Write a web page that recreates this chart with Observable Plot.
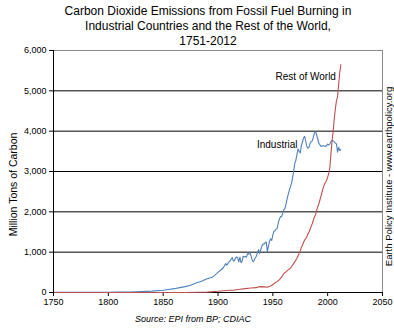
<!DOCTYPE html>
<html>
<head>
<meta charset="utf-8">
<script src="https://cdn.jsdelivr.net/npm/d3@7"></script>
<script src="https://cdn.jsdelivr.net/npm/@observablehq/plot@0.6"></script>
<style>
  html, body { margin: 0; padding: 0; background: #fff; }
  #wrap { position: relative; width: 394px; height: 333px; overflow: hidden; font-family: "Liberation Sans", Arial, sans-serif; }
  #title { position: absolute; top: 4px; left: 0; width: 416px; text-align: center; font-size: 12px; line-height: 15px; color: #000; }
  #caption { position: absolute; top: 314px; left: 0; width: 386px; text-align: center; font-size: 9px; font-style: italic; color: #000; }
  #chart { position: absolute; top: 0; left: 0; }
</style>
</head>
<body>
<div id="wrap">
  <div id="chart"></div>
  <div id="title">Carbon Dioxide Emissions from Fossil Fuel Burning in<br>Industrial Countries and the Rest of the World,<br>1751-2012</div>
  <div id="caption">Source: EPI from BP; CDIAC</div>
</div>
<script>
// Industrial countries (million tons of carbon)
const indYears = [1751,1770,1790,1800,1810,1820,1830,1840,1850,1855,1860,1865,1870,1875,1880,1885,1890,1895,1900,1903,1905,1907,1908,1910,1911,1913,1914,1915,1916,1917,1918,1919,1920,1921,1922,1923,1924,1925,1926,1927,1928,1929,1930,1931,1932,1933,1934,1935,1936,1937,1938,1939,1940,1941,1942,1943,1944,1945,1946,1947,1948,1949,1950,1951,1952,1953,1954,1955,1956,1957,1958,1959,1960,1961,1962,1963,1964,1965,1966,1967,1968,1969,1970,1971,1972,1973,1974,1975,1976,1977,1978,1979,1980,1981,1982,1983,1984,1985,1986,1987,1988,1989,1990,1991,1992,1993,1994,1995,1996,1997,1998,1999,2000,2001,2002,2003,2004,2005,2006,2007,2008,2009,2010,2011,2012];
const indValues = [3,4,6,8,10,14,22,35,55,75,95,120,145,180,235,280,340,380,500,570,620,720,680,760,780,870,780,790,860,880,860,760,880,740,780,900,880,890,880,960,950,1010,920,820,760,800,860,900,990,1060,970,1060,1150,1200,1200,1240,1250,1010,1150,1270,1330,1290,1420,1520,1530,1570,1590,1730,1820,1880,1880,1970,2050,2080,2190,2320,2430,2530,2620,2700,2850,3000,3200,3280,3420,3560,3500,3460,3640,3730,3830,3870,3750,3620,3580,3600,3700,3740,3760,3860,3960,3990,3900,3800,3700,3660,3620,3630,3640,3630,3620,3640,3680,3660,3680,3740,3770,3760,3740,3700,3690,3480,3600,3520,3540];
// Rest of world (million tons of carbon)
const rowYears = [1751,1850,1870,1884,1890,1900,1905,1910,1915,1920,1925,1930,1935,1937,1940,1942,1945,1948,1950,1952,1954,1956,1958,1960,1962,1964,1966,1968,1970,1972,1974,1975,1976,1977,1978,1979,1980,1981,1982,1983,1984,1985,1986,1987,1988,1989,1990,1991,1992,1993,1994,1995,1996,1997,1998,1999,2000,2001,2002,2003,2004,2005,2006,2007,2008,2009,2010,2011,2012];
const rowValues = [0,0,1,5,10,30,45,55,60,80,95,110,120,140,145,140,130,160,200,240,270,320,380,470,510,560,600,680,760,850,970,1030,1120,1170,1240,1300,1340,1380,1450,1500,1570,1640,1710,1800,1880,1930,2040,2130,2200,2300,2400,2500,2600,2680,2720,2780,2860,2950,3100,3450,3750,4000,4300,4550,4750,4850,5150,5450,5650];

const xTicks = [1750,1800,1850,1900,1950,2000,2050];
const yTicks = [0,1000,2000,3000,4000,5000,6000];
const seriesNames = ["Rest of World","Industrial"];
const labelYears = [1980,1954];
const labelValues = [5360,3650];
const sideNote = "Earth Policy Institute - www.earthpolicy.org";
const yTitle = "Million Tons of Carbon";

const ind = indYears.map((y,i) => ({year: y, value: indValues[i]}));
const row = rowYears.map((y,i) => ({year: y, value: rowValues[i]}));
const labels = seriesNames.map((n,i) => ({name: n, year: labelYears[i], value: labelValues[i]}));

const chart = Plot.plot({
  width: 394,
  height: 333,
  marginTop: 50,
  marginBottom: 41,
  marginLeft: 53,
  marginRight: 12,
  style: {fontFamily: "'Liberation Sans', Arial, sans-serif", fontSize: "9px", color: "#000", background: "transparent", overflow: "visible"},
  x: {domain: [1750, 2050], label: null},
  y: {domain: [0, 6000], label: null},
  marks: [
    Plot.ruleY(yTicks.filter(d => d > 0 && d < 6000), {stroke: "#000", strokeWidth: 1}),
    Plot.ruleY([6000], {stroke: "#8c8c8c", strokeWidth: 1}),
    Plot.ruleX([2050], {stroke: "#8c8c8c", strokeWidth: 1}),
    Plot.axisX({ticks: xTicks, tickFormat: d => String(d), tickSize: 4, tickPadding: 2, stroke: "#000", strokeOpacity: 1, fill: "#000", label: null}),
    Plot.axisY({ticks: yTicks, tickFormat: d3.format(","), tickSize: 4, tickPadding: 3, stroke: "#000", strokeOpacity: 1, fill: "#000", label: null}),
    Plot.ruleX([1750], {stroke: "#000", strokeWidth: 1}),
    Plot.ruleY([0], {stroke: "#000", strokeWidth: 1}),
    Plot.line(ind, {x: "year", y: "value", stroke: "#4f81bd", strokeWidth: 1.1}),
    Plot.line(row, {x: "year", y: "value", stroke: "#c0504d", strokeWidth: 1.1}),
    Plot.text(labels, {x: "year", y: "value", text: "name", fontSize: 10, fill: "#000", textAnchor: "middle"}),
    Plot.text([yTitle], {frameAnchor: "left", text: d => d, rotate: -90, textAnchor: "middle", dx: -40, dy: 13, fontSize: 10.5, fill: "#000"}),
    Plot.text([sideNote], {frameAnchor: "right", text: d => d, rotate: -90, textAnchor: "middle", dx: 6, dy: 5, fontSize: 9.5, fill: "#000"})
  ]
});
document.getElementById("chart").appendChild(chart);
</script>
</body>
</html>
